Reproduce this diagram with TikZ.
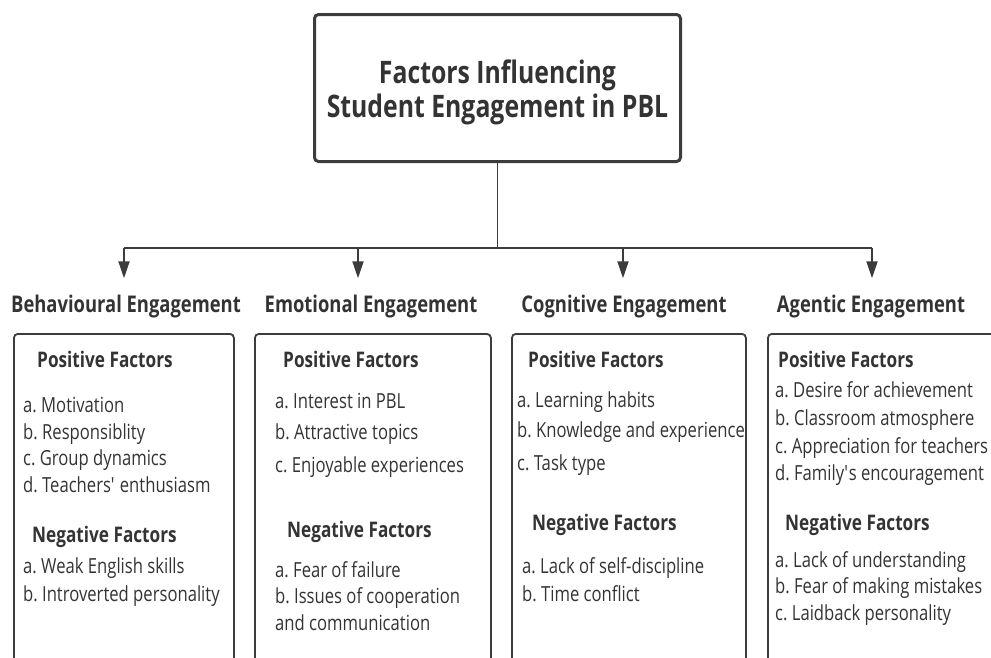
\documentclass[tikz,border=0pt]{standalone}
\usepackage{fontspec}
\setmainfont{Open Sans}[FakeStretch=0.8]
\usetikzlibrary{arrows.meta}
\definecolor{inkc}{HTML}{333333}
\definecolor{linec}{HTML}{3C3C3C}
\frenchspacing

\begin{document}
\begin{tikzpicture}[x=1pt,y=-1pt,
  titlebox/.style={draw=linec,line width=3pt,rounded corners=4pt,minimum width=366pt,minimum height=147pt,align=center,text=inkc,font=\bfseries\fontsize{31}{34}\selectfont},
  head/.style={text=inkc,font=\bfseries\fontsize{23}{27}\selectfont,anchor=base,text height=17.5pt,text depth=5pt,inner ysep=16pt},
  panel/.style={draw=linec,line width=1.8pt,rounded corners=4pt,anchor=north west,inner sep=0pt},
  sub/.style={text=inkc,font=\bfseries\fontsize{21.5}{25}\selectfont,anchor=base west,inner sep=0pt},
  item/.style={text=inkc,font=\fontsize{20.8}{25}\selectfont,anchor=base west,inner sep=0pt},
  link/.style={draw=linec,line width=1.8pt},
  arc/.style={link,-{Triangle[length=17pt,width=11pt]}}]
    \useasboundingbox (0,0) rectangle (991,657);
    \clip (0,0) rectangle (991,657);

    \node[titlebox] (title) at (497.5,88) {\rule{0pt}{32pt}Factors Influencing\\Student Engagement in PBL};

    \node[head] (behav) at (126,312) {Behavioural Engagement};
    \node[head] (emot) at (371,312) {Emotional Engagement};
    \node[head] (cogn) at (624,312) {Cognitive Engagement};
    \node[head] (agent) at (871,312) {Agentic Engagement};

    \coordinate (a1) at (124,248);
    \coordinate (a2) at (358,248);
    \coordinate (a3) at (623,248);
    \coordinate (a4) at (872,248);
    \draw[link] (title.south) -- (title.south |- a1);
    \draw[link] (a1) -- (a4);
    \foreach \a/\h in {a1/behav,a2/emot,a3/cogn,a4/agent}
        \draw[arc] (\a) -- (\a |- \h.north);

    \node[panel,minimum width=220pt,minimum height=380pt] (pbehav) at (13,333) {};
    \node[panel,minimum width=236pt,minimum height=380pt] (pemot) at (254,333) {};
    \node[panel,minimum width=234pt,minimum height=380pt] (pcogn) at (511,333) {};
    \node[panel,minimum width=250pt,minimum height=380pt] (pagent) at (767,333) {};

    % behavioural
    \node[sub] (bpos) at (37,367) {Positive Factors};
    \foreach [count=\i] \txt/\y in {a. Motivation/412,b. Responsiblity/439,c. Group dynamics/465,d. Teachers\textquotesingle\ enthusiasm/492}
        \node[item] (bp\i) at (23,\y) {\txt};
    \node[sub] (bneg) at (32,542) {Negative Factors};
    \foreach [count=\i] \txt/\y in {a. Weak English skills/573,b. Introverted personality/601}
        \node[item] (bn\i) at (23,\y) {\txt};

    % emotional
    \node[sub] (epos) at (283,367) {Positive Factors};
    \foreach [count=\i] \txt/\y in {a. Interest in PBL/408,b. Attractive topics/439,c. Enjoyable experiences/472}
        \node[item] (ep\i) at (275,\y) {\txt};
    \node[sub] (eneg) at (287,537) {Negative Factors};
    \foreach [count=\i] \txt/\y in {a. Fear of failure/577,b. Issues of cooperation/603,and communication/630}
        \node[item] (en\i) at (275,\y) {\txt};

    % cognitive
    \node[sub] (cpos) at (528,367) {Positive Factors};
    \foreach [count=\i] \txt/\y in {a. Learning habits/407,b. Knowledge and experience/437,c. Task type/470}
        \node[item] (cp\i) at (517,\y) {\txt};
    \node[sub] (cneg) at (532,530) {Negative Factors};
    \foreach [count=\i] \txt/\y in {a. Lack of self-discipline/573,b. Time conflict/601}
        \node[item] (cn\i) at (522,\y) {\txt};

    % agentic
    \node[sub] (apos) at (778,367) {Positive Factors};
    \foreach [count=\i] \txt/\y in {a. Desire for achievement/397,b. Classroom atmosphere/425,c. Appreciation for teachers/453,d. Family\textquotesingle s encouragement/480}
        \node[item] (ap\i) at (775,\y) {\txt};
    \node[sub] (aneg) at (785,530) {Negative Factors};
    \foreach [count=\i] \txt/\y in {a. Lack of understanding/567,b. Fear of making mistakes/593,c. Laidback personality/620}
        \node[item] (an\i) at (775,\y) {\txt};
\end{tikzpicture}
\end{document}
